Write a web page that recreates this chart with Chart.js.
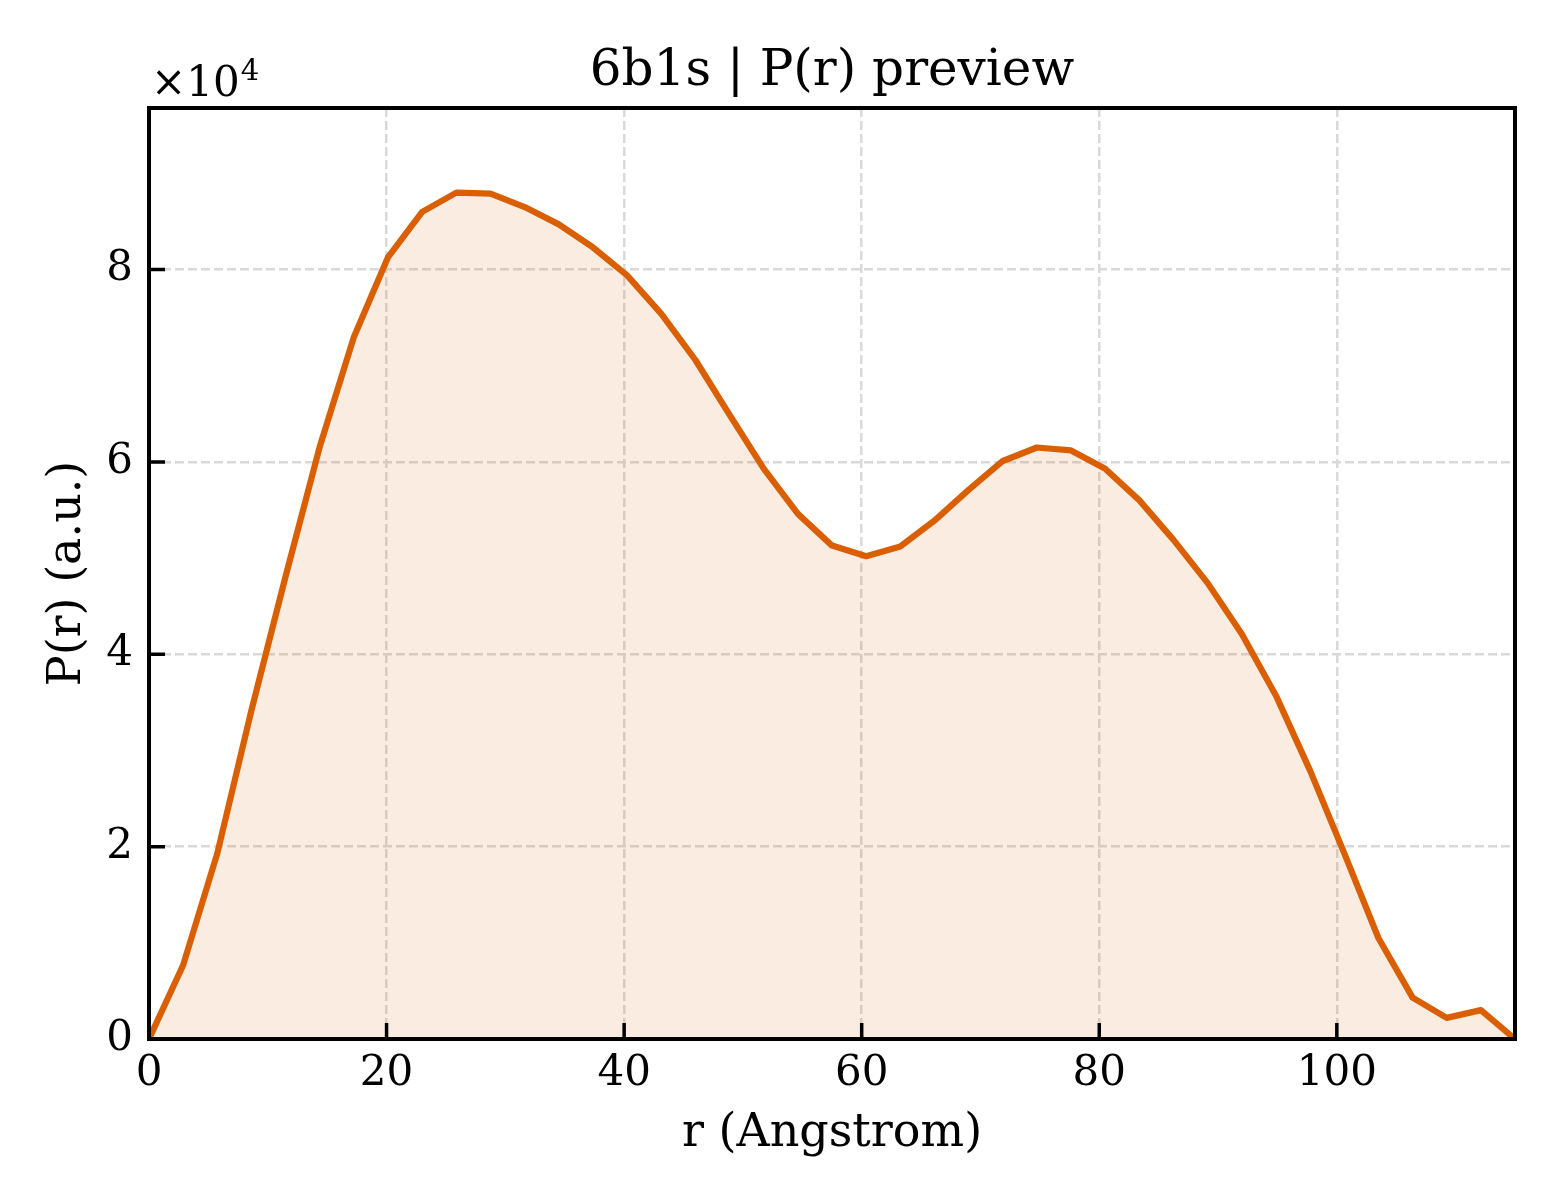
<!DOCTYPE html>
<html>
<head>
<meta charset="utf-8">
<title>6b1s | P(r) preview</title>
<script src="https://cdn.jsdelivr.net/npm/chart.js@4.4.1/dist/chart.umd.min.js"></script>
<style>
  html, body { margin: 0; padding: 0; background: #ffffff; }
  #chart { display: block; }
</style>
</head>
<body>
<canvas id="chart" width="1560" height="1200"></canvas>
<script>
// r in Angstrom
const rValues = [0, 2.88, 5.75, 8.63, 11.5, 14.38, 17.25, 20.13, 23, 25.88,
    28.75, 31.63, 34.5, 37.38, 40.25, 43.13, 46, 48.88, 51.75, 54.63,
    57.5, 60.38, 63.25, 66.13, 69, 71.88, 74.75, 77.63, 80.5, 83.38,
    86.25, 89.13, 92, 94.88, 97.75, 100.63, 103.5, 106.38, 109.25, 112.13, 115];

// P(r), in units of 10^4
const pValues = [0, 0.77, 1.93, 3.42, 4.81, 6.16, 7.3, 8.13, 8.6, 8.8,
    8.79, 8.65, 8.47, 8.23, 7.94, 7.54, 7.06, 6.49, 5.93, 5.46,
    5.13, 5.02, 5.12, 5.39, 5.71, 6.01, 6.15, 6.12, 5.93, 5.6,
    5.19, 4.74, 4.21, 3.57, 2.79, 1.93, 1.05, 0.43, 0.22, 0.3, 0];

const xTicks = [0, 20, 40, 60, 80, 100];
const yTicks = [0, 2, 4, 6, 8];

const titleText = '6b1s | P(r) preview';
const xLabel = 'r (Angstrom)';
const yLabel = 'P(r) (a.u.)';
const yExponent = '4';

const serif = "'DejaVu Serif', 'Liberation Serif', serif";
Chart.defaults.font.family = serif;
Chart.defaults.color = '#000000';

// frame, inward ticks, title and the x10^4 offset text
const framePlugin = {
    id: 'frame',
    afterDatasetsDraw(chart) {
        let ctx = chart.ctx;
        let area = chart.chartArea;
        let xs = chart.scales.x;
        let ys = chart.scales.y;
        ctx.save();
        ctx.strokeStyle = '#000000';
        ctx.lineWidth = 3.5;
        ctx.beginPath();
        xs.ticks.forEach(t => {
            let px = xs.getPixelForValue(t.value);
            ctx.moveTo(px, area.bottom);
            ctx.lineTo(px, area.bottom - 16);
        });
        ys.ticks.forEach(t => {
            let py = ys.getPixelForValue(t.value);
            ctx.moveTo(area.left, py);
            ctx.lineTo(area.left + 16, py);
        });
        ctx.stroke();
        ctx.lineWidth = 4;
        ctx.strokeRect(area.left, area.top, area.right - area.left, area.bottom - area.top);
        ctx.restore();
    },
    afterDraw(chart) {
        let ctx = chart.ctx;
        let area = chart.chartArea;
        ctx.save();
        ctx.fillStyle = '#000000';
        ctx.textBaseline = 'alphabetic';
        ctx.textAlign = 'center';
        ctx.font = '50px ' + serif;
        ctx.fillText(titleText, (area.left + area.right) / 2, 85);
        ctx.textAlign = 'left';
        ctx.font = '42px ' + serif;
        ctx.fillText('\u00d710', 151, 96);
        let w = ctx.measureText('\u00d710').width;
        ctx.font = '29px ' + serif;
        ctx.fillText(yExponent, 151 + w + 1, 80);
        ctx.restore();
    }
};

new Chart(document.getElementById('chart'), {
    type: 'line',
    data: {
        datasets: [{
            data: rValues.map((r, i) => ({ x: r, y: pValues[i] })),
            borderColor: '#d95f02',
            backgroundColor: 'rgba(217, 95, 2, 0.12)',
            borderWidth: 6.25,
            fill: 'origin',
            tension: 0,
            pointRadius: 0,
            borderJoinStyle: 'round'
        }]
    },
    options: {
        responsive: false,
        animation: false,
        devicePixelRatio: 1,
        layout: { padding: { top: 108, right: 45, left: 0, bottom: 0 } },
        plugins: {
            legend: { display: false },
            tooltip: { enabled: false },
            title: { display: false }
        },
        scales: {
            x: {
                type: 'linear',
                min: 0,
                max: 115,
                afterBuildTicks: (scale) => {
                    scale.ticks = xTicks.map(v => ({ value: v }));
                },
                afterFit: (scale) => { scale.height = 161; },
                ticks: {
                    font: { size: 42 },
                    padding: 10,
                    maxRotation: 0,
                    autoSkip: false
                },
                grid: {
                    color: '#d9d9d9',
                    lineWidth: 2.5,
                    drawTicks: false
                },
                border: { display: false, dash: [9, 4] },
                title: {
                    display: true,
                    text: xLabel,
                    font: { size: 46 },
                    padding: { top: 0, bottom: 38 }
                }
            },
            y: {
                type: 'linear',
                min: 0,
                max: 9.68,
                afterBuildTicks: (scale) => {
                    scale.ticks = yTicks.map(v => ({ value: v }));
                },
                afterFit: (scale) => { scale.width = 149; },
                ticks: {
                    font: { size: 42 },
                    padding: 16,
                    autoSkip: false
                },
                grid: {
                    color: '#d9d9d9',
                    lineWidth: 2.5,
                    drawTicks: false
                },
                border: { display: false, dash: [9, 4] },
                title: {
                    display: true,
                    text: yLabel,
                    font: { size: 46 },
                    padding: { top: 40, bottom: 0 }
                }
            }
        }
    },
    plugins: [framePlugin]
});
</script>
</body>
</html>
